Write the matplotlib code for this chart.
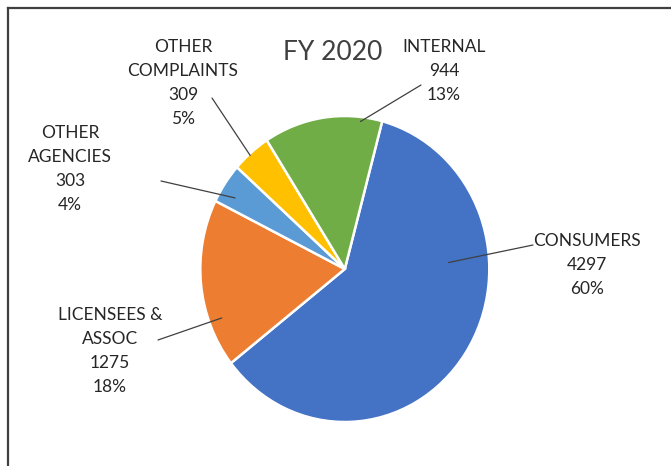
import numpy as np
import matplotlib
matplotlib.use("Agg")
import matplotlib.pyplot as plt
from matplotlib.patches import ConnectionPatch
from matplotlib.lines import Line2D

plt.rcParams['font.family'] = ['Lato', 'DejaVu Sans']

# complaint sources, FY 2020
categories = ["CONSUMERS", "LICENSEES &\nASSOC", "OTHER\nAGENCIES", "OTHER\nCOMPLAINTS", "INTERNAL"]
counts = [4297, 1275, 303, 309, 944]
pct_labels = ["60%", "18%", "4%", "5%", "13%"]
colors = ["#4472C4", "#ED7D31", "#5B9BD5", "#FFC000", "#70AD47"]

W, H = 671, 466
fig = plt.figure(figsize=(W / 100, H / 100), dpi=100)

def fx(px):
    return px / W

def fy(py):
    return 1 - py / H

# pie axes (slightly taller than wide, like the exported chart)
cx, cy, rx, ry = 344.8, 269.0, 144.5, 153.0
ax = fig.add_axes([fx(cx - rx), fy(cy + ry), 2 * rx / W, 2 * ry / H])
wedges, _ = ax.pie(counts, colors=colors, startangle=75, counterclock=False,
                   wedgeprops=dict(edgecolor="white", linewidth=1.8))
ax.set_aspect("auto")
ax.set_xlim(-1, 1)
ax.set_ylim(-1, 1)
ax.axis("off")

fig.text(fx(333), fy(52), "FY 2020", ha="center", va="center",
         fontsize=19, color="#404040")

# label block centres (px), leader start (px), anchor inside wedge (fraction, radius)
label_pos = [(587, 265), (110, 351), (70, 169), (183, 83), (444, 71)]
leader_start = [(533, 245), (158, 340), (161, 181), (212, 98), (421, 85)]
anchor = [(0.33, 0.72), (0.27, 0.91), (0.33, 0.89), (0.44, 0.99), (0.82, 0.97)]

for i, w in enumerate(wedges):
    txt = f"{categories[i]}\n{counts[i]}\n{pct_labels[i]}"
    lx, ly = label_pos[i]
    fig.text(fx(lx), fy(ly), txt, ha="center", va="center", fontsize=12.5,
             color="#262626", linespacing=1.62)
    f, r = anchor[i]
    ang = np.radians(w.theta2 - f * (w.theta2 - w.theta1))
    sx, sy = leader_start[i]
    con = ConnectionPatch(xyA=(fx(sx), fy(sy)), coordsA="figure fraction",
                          xyB=(r * np.cos(ang), r * np.sin(ang)), coordsB="data",
                          axesB=ax, color="#404040", linewidth=0.9)
    fig.add_artist(con)

# chart border (top and left edges are the only ones inside the frame)
fig.add_artist(Line2D([fx(7.5), 1.01], [fy(7.5), fy(7.5)], color="#404040", linewidth=1.6))
fig.add_artist(Line2D([fx(7.5), fx(7.5)], [fy(7.5), -0.01], color="#404040", linewidth=1.6))

fig.savefig("out.png", dpi=100)
